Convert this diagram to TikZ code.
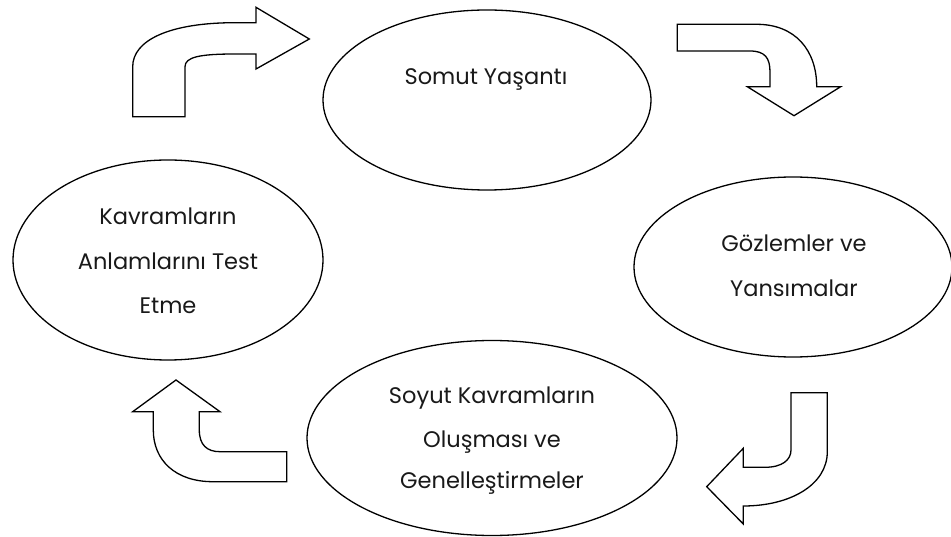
\documentclass[tikz,border=0pt]{standalone}
\usepackage{fontspec}
\setmainfont{Poppins}
\usetikzlibrary{shapes.geometric}
\tikzset{
  ell/.style={draw=black, line width=1.3pt, ellipse, inner sep=0pt},
  txt/.style={anchor=base, inner sep=0pt, font=\fontsize{22.5}{27}\selectfont, text=black!90},
  blockarrow/.style={draw=black, line width=1.3pt, fill=white, line join=miter}
}
\begin{document}
\begin{tikzpicture}[x=1pt, y=-1pt]
\useasboundingbox (0,0) rectangle (951,537);
% ellipses
\node[ell, minimum width=328pt, minimum height=180pt] (top) at (487,100) {};
\node[ell, minimum width=310pt, minimum height=200pt] (left) at (168,260) {};
\node[ell, minimum width=318pt, minimum height=180pt] (right) at (793,267) {};
\node[ell, minimum width=370pt, minimum height=195pt] (bottom) at (492,438) {};
% texts
\node[txt] (t1) at (486,85) {Somut Yaşantı};
\node[txt] (l1) at (168,225) {Kavramların};
\node[txt] (l2) at (168,270) {Anlamlarını Test};
\node[txt] (l3) at (168,314) {Etme};
\node[txt] (r1) at (794,252) {Gözlemler ve};
\node[txt] (r2) at (794,297) {Yansımalar};
\node[txt] (b1) at (492,403) {Soyut Kavramların};
\node[txt] (b2) at (492,447) {Oluşması ve};
\node[txt] (b3) at (492,488) {Genelleştirmeler};
% arrow top-left
\draw[blockarrow] (132.7,116.7) -- (185,116.7) -- (185,66.7)
  .. controls (185,57) and (200,54) .. (235,54) -- (256,54) -- (256,69)
  -- (309.3,39) -- (256,7.3) -- (256,22.7) -- (235,22.7)
  .. controls (170,22.7) and (132.7,40) .. (132.7,66.7) -- cycle;
% arrow top-right
\draw[blockarrow] (677.3,24.3) -- (756.7,24.3)
  .. controls (795,24.3) and (816.7,50) .. (816.7,86.7) -- (840.7,86.7)
  -- (794,115.7) -- (747.3,86.7) -- (770,86.7) -- (770,72)
  .. controls (770,58) and (765,51) .. (750,51) -- (677.3,51) -- cycle;
% arrow bottom-right
\draw[blockarrow] (791,392.7) -- (827.3,392.7) -- (827.3,451.7)
  .. controls (827.3,485) and (790,506) .. (743.3,506) -- (743.3,524)
  -- (706.7,486.7) -- (743.3,448.3) -- (743.3,467.3) -- (765,467.3)
  .. controls (782,467.3) and (791,460) .. (791,450) -- cycle;
% arrow bottom-left
\draw[blockarrow] (286.7,451.7) -- (286.7,481.7) -- (213,481.7)
  .. controls (175,481.7) and (153.3,460) .. (153.3,430) -- (153.3,411.7)
  -- (132.7,411.7) -- (176,380) -- (220,411.7) -- (199.3,411.7) -- (199.3,430)
  .. controls (199.3,445) and (207,451.7) .. (220,451.7) -- cycle;
\end{tikzpicture}
\end{document}
